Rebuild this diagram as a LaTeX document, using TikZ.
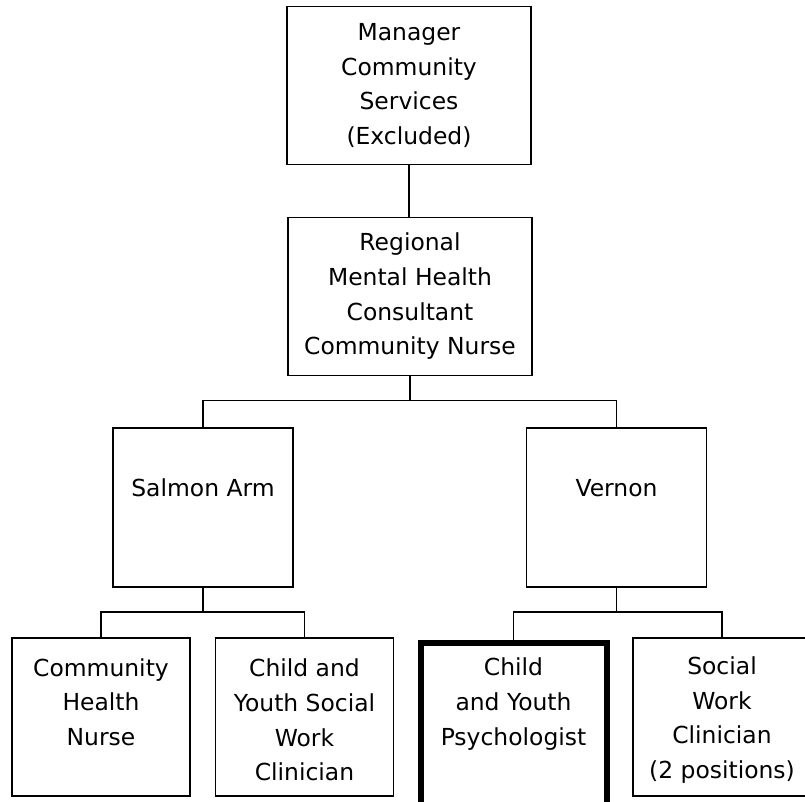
\documentclass[tikz,border=0pt]{standalone}
\usepackage{fontspec}
\setmainfont{DejaVu Sans}

\begin{document}
\begin{tikzpicture}[x=0.3mm,y=-0.3mm,
        box/.style={draw,line width=0.55mm,inner sep=0pt,outer sep=0pt},
        topbox/.style={box,minimum width=73.2mm,minimum height=47.4mm},
        sitebox/.style={box,minimum width=54mm,minimum height=47.7mm},
        jobbox/.style={box,minimum width=53.4mm,minimum height=47.4mm},
        lbl/.style={align=center,inner sep=0pt,font=\fontsize{20}{29.6}\selectfont},
        link/.style={line width=0.55mm}]
        \useasboundingbox (0,0) rectangle (805,801);
        \clip (0,0) rectangle (805,801);
        % boxes
        \node[topbox] (mgr) at (409,85.5) {};
        \node[topbox] (rmh) at (410,296.5) {};
        \node[sitebox] (salm) at (203,507.5) {};
        \node[sitebox] (vern) at (616.5,507.5) {};
        \node[jobbox] (chn) at (101,717) {};
        \node[jobbox] (cysw) at (304.5,717) {};
        \node[jobbox,line width=1.8mm,minimum width=55.8mm,minimum height=48.6mm] (cyp) at (513.5,724) {};
        \node[jobbox] (swc) at (722,717) {};
        % texts
        \node[lbl] at (mgr) {Manager\\Community\\Services\\(Excluded)};
        \node[lbl] at (rmh) {Regional\\Mental Health\\Consultant\\Community Nurse};
        \node[lbl,yshift=5.85mm] at (salm) {Salmon Arm};
        \node[lbl,yshift=5.85mm] at (vern) {Vernon};
        \node[lbl,yshift=4.5mm] at (chn) {Community\\Health\\Nurse};
        \node[lbl,yshift=-0.9mm] at (cysw) {Child and\\Youth Social\\Work\\Clinician};
        \node[lbl,yshift=6mm] at (cyp) {Child\\and Youth\\Psychologist};
        \node[lbl,yshift=-0.9mm] at (swc) {Social\\Work\\Clinician\\(2 positions)};
        % reporting lines
        \draw[link] (mgr.south) -- (mgr.south |- rmh.north);
        \draw[link] (rmh.south) -- ++(0,25) coordinate (b1) -| (salm.north) (b1) -| (vern.north);
        \draw[link] (salm.south) -- ++(0,25) coordinate (b2) -| (chn.north) (b2) -| (cysw.north);
        \draw[link] (vern.south) -- ++(0,25) coordinate (b3) -| (cyp.north) (b3) -| (swc.north);
    \end{tikzpicture}
\end{document}
